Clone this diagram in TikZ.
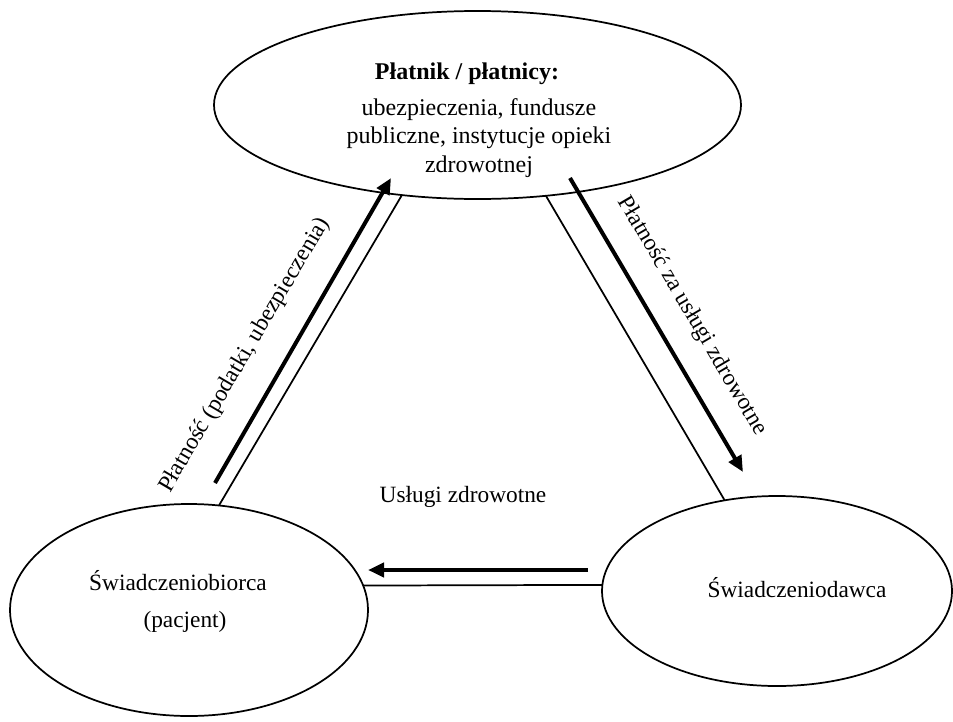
\documentclass[tikz,border=0pt]{standalone}
\usepackage{fontspec}
\setmainfont{Liberation Serif}
\usetikzlibrary{arrows.meta,shapes.geometric}
\begin{document}
\begin{tikzpicture}[x=0.75pt,y=-0.75pt,
  oval/.style={draw, ellipse, line width=1.3pt, inner sep=0pt, outer sep=0pt},
  link/.style={line width=1.3pt},
  flow/.style={line width=3pt, -{Triangle[length=12pt,width=10.5pt]}},
  txt/.style={font=\fontsize{17.5}{21.5}\selectfont, inner sep=0pt},
  bigtxt/.style={font=\fontsize{18}{21.4}\selectfont, inner sep=0pt},
]
\useasboundingbox (0,0) rectangle (953,721);
% ellipses
\node[oval, minimum width=395.25pt, minimum height=141pt] (top) at (477.5,105) {};
\node[oval, minimum width=268.5pt, minimum height=159pt] (left) at (189,610) {};
\node[oval, minimum width=262.5pt, minimum height=142.5pt] (right) at (777,591) {};
% texts in ellipses
\node[bigtxt, align=center, anchor=center] (toptext) at (479,120)
  {\textbf{Płatnik / płatnicy:}\hspace*{18pt}\\[5.6pt]ubezpieczenia, fundusze\\publiczne, instytucje opieki\\zdrowotnej};
\node[txt, anchor=base] (lefttext1) at (178,590) {Świadczeniobiorca};
\node[txt, anchor=base] (lefttext2) at (185,627) {(pacjent)};
\node[txt, anchor=base] (righttext) at (797,597) {Świadczeniodawca};
% thin connectors
\draw[link] (top.-130.0) -- (left.74.3);
\draw[link] (top.-53.8) -- (right.120.2);
\draw[link] (left.8.2) -- (right.178);
% thick flow arrows
\coordinate (a1s) at (215,483);
\coordinate (a1e) at (391,178);
\coordinate (a2s) at (570,178);
\coordinate (a2e) at (743,472);
\coordinate (a3s) at (588,570);
\coordinate (a3e) at (368,570);
\draw[flow] (a1s) -- (a1e);
\draw[flow] (a2s) -- (a2e);
\draw[flow] (a3s) -- (a3e);
% flow labels
\node[txt, rotate=59.5] (l1) at (245,355) {Płatność (podatki, ubezpieczenia)};
\node[txt, rotate=-59.5] (l2) at (692,316) {Płatność za usługi zdrowotne};
\node[txt] (l3) at (463,497) {Usługi zdrowotne};
\end{tikzpicture}
\end{document}
